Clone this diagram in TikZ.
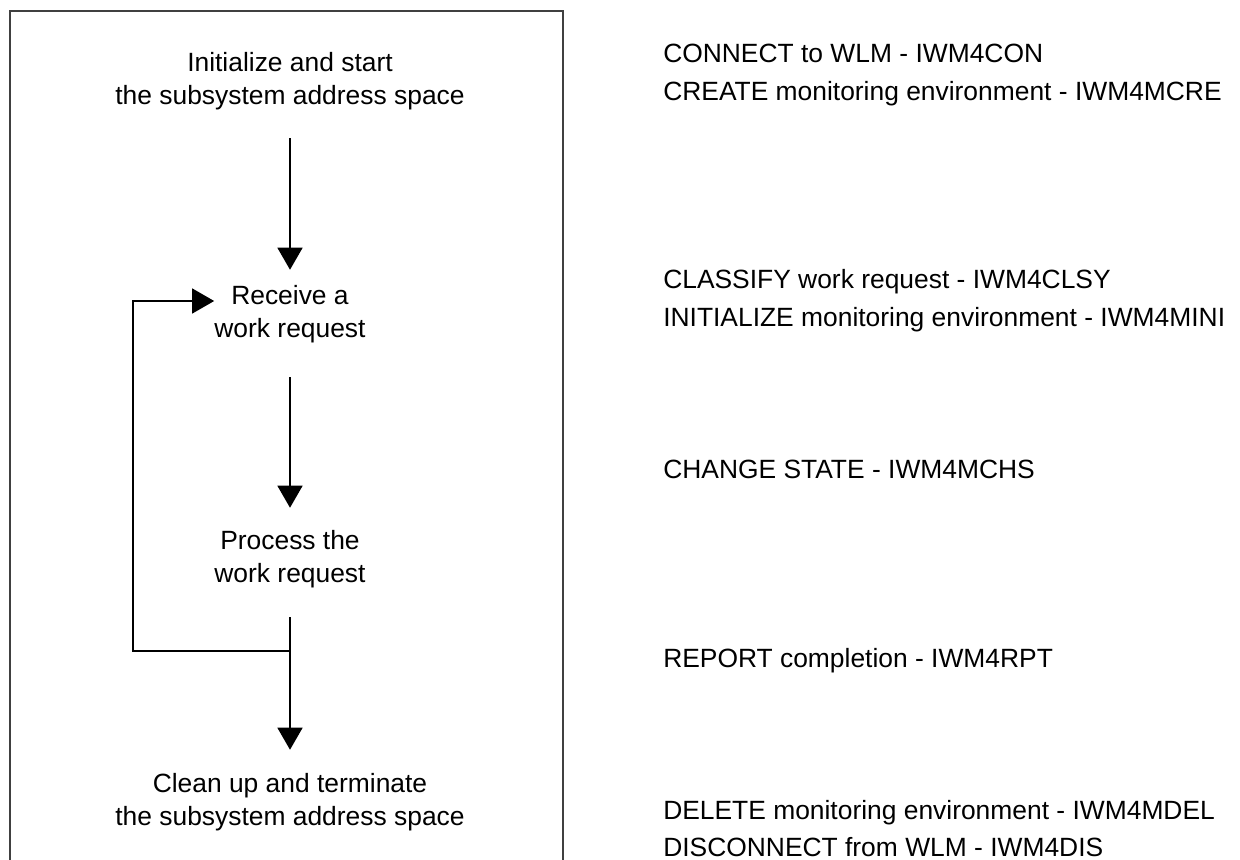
\documentclass[tikz,border=0pt]{standalone}
\usepackage{fontspec}
\setmainfont{Liberation Sans}
\usetikzlibrary{arrows.meta}
\begin{document}
\begin{tikzpicture}[x=0.75pt,y=-0.75pt,
  every node/.style={inner sep=0pt, font=\fontsize{19.8pt}{25pt}\selectfont},
  stepbox/.style={align=center, minimum height=45pt},
  apitext/.style={anchor=base west},
  arr/.style={-{Triangle[length=16.5pt,width=18.75pt]}, line width=1pt},
  frame/.style={line width=1.5pt, draw=black!75}]
\useasboundingbox (0,0) rectangle (1240,860);
% frame
\draw[frame] (10,860) -- (10,11) -- (563,11) -- (563,860);
% steps
\node[stepbox] (init) at (290,81.5) {Initialize and start\\the subsystem address space};
\node[stepbox] (recv) at (290,314) {Receive a\\work request};
\node[stepbox] (proc) at (290,559) {Process the\\work request};
\node[stepbox] (clean) at (290,802) {Clean up and terminate\\the subsystem address space};
% connectors
\draw[arr, shorten <=19.9pt, shorten >=10.5pt] (init.south) -- (recv.north);
\draw[arr, shorten <=24.75pt, shorten >=15.75pt] (recv.south) -- (proc.north);
\draw[arr, shorten <=21pt, shorten >=16.5pt] (proc.south) -- (clean.north);
\coordinate (j) at (290,651);
\draw[arr] (j) -- (133,651) -- (133,301) -- (recv.west |- 0,301);
% API texts
\node[apitext] (t1) at (663,62) {CONNECT to WLM - IWM4CON};
\node[apitext] (t2) at (663,100) {CREATE monitoring environment - IWM4MCRE};
\node[apitext] (t3) at (663,288) {CLASSIFY work request - IWM4CLSY};
\node[apitext] (t4) at (663,326) {INITIALIZE monitoring environment - IWM4MINI};
\node[apitext] (t5) at (663,478) {CHANGE STATE - IWM4MCHS};
\node[apitext] (t6) at (663,667) {REPORT completion - IWM4RPT};
\node[apitext] (t7) at (663,819) {DELETE monitoring environment - IWM4MDEL};
\node[apitext] (t8) at (663,856) {DISCONNECT from WLM - IWM4DIS};
\end{tikzpicture}
\end{document}
